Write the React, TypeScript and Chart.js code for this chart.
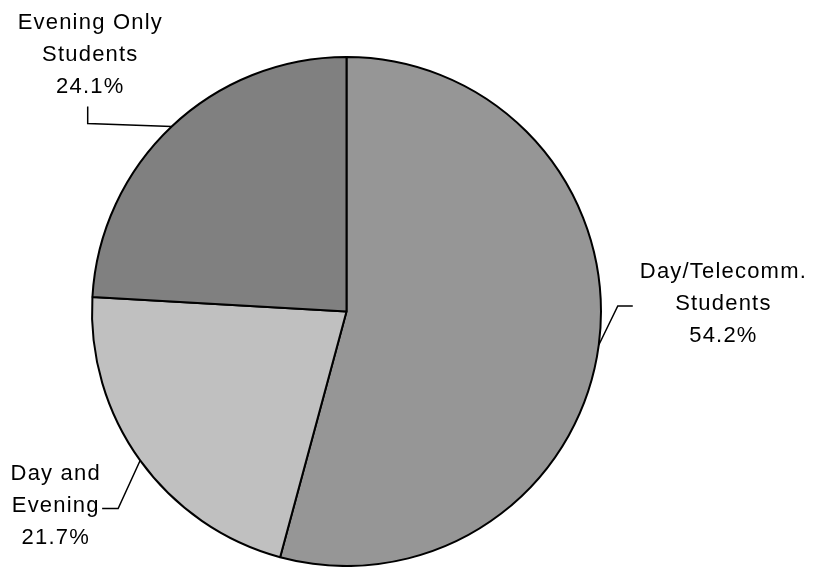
import React, { useEffect, useRef } from "react";
import { Chart, registerables } from "chart.js";

Chart.register(...registerables);

const categories = ["Day/Telecomm. Students", "Day and Evening", "Evening Only Students"];
const labelLines = [
  ["Day/Telecomm.", "Students", "54.2%"],
  ["Day and", "Evening", "21.7%"],
  ["Evening Only", "Students", "24.1%"],
];
const values = [54.2, 21.7, 24.1];
const colors = ["#969696", "#c0c0c0", "#808080"];

// label layout relative to slice anchor: elbow, end, text centre, first baseline
const labelLayout = [
  { elbow: [19, -39], end: [34, -39], text: [124, -67] },
  { elbow: [-22, 48], end: [-38, 48], text: [-85, 20] },
  { elbow: [-84, -3], end: [-84, -20], text: [-82, -98] },
];

const leaderPlugin = {
  id: "leaders",
  afterDraw(chart: any) {
    const ctx = chart.ctx;
    const meta = chart.getDatasetMeta(0);
    ctx.save();
    meta.data.forEach((arc: any, i: number) => {
      const mid = (arc.startAngle + arc.endAngle) / 2;
      const ax = arc.x + arc.outerRadius * Math.cos(mid);
      const ay = arc.y + arc.outerRadius * Math.sin(mid);
      const L = labelLayout[i];
      ctx.strokeStyle = "#000";
      ctx.lineWidth = 1.5;
      ctx.beginPath();
      ctx.moveTo(ax, ay);
      ctx.lineTo(ax + L.elbow[0], ay + L.elbow[1]);
      ctx.lineTo(ax + L.end[0], ay + L.end[1]);
      ctx.stroke();
      ctx.fillStyle = "#000";
      ctx.font = "22px 'Liberation Sans', Arial, sans-serif";
      (ctx as any).letterSpacing = "1.2px";
      ctx.textAlign = "center";
      ctx.textBaseline = "alphabetic";
      labelLines[i].forEach((t, k) => {
        ctx.fillText(t, ax + L.text[0] + 0.6, ay + L.text[1] + k * 32);
      });
    });
    ctx.restore();
  },
};

export default function App() {
  const ref = useRef<HTMLCanvasElement>(null);
  useEffect(() => {
    document.body.style.margin = "0";
    const chart = new Chart(ref.current as HTMLCanvasElement, {
      type: "pie",
      data: {
        labels: categories,
        datasets: [
          {
            data: values,
            backgroundColor: colors,
            borderColor: "#000",
            borderWidth: 2,
          },
        ],
      },
      options: {
        animation: false,
        responsive: false,
        layout: { padding: { left: 91, right: 211, top: 56, bottom: 0 } },
        plugins: { legend: { display: false }, tooltip: { enabled: false } },
      },
      plugins: [leaderPlugin],
    });
    return () => chart.destroy();
  }, []);
  return (
    <div style={{ width: 813, height: 567, background: "#fff" }}>
      <canvas ref={ref} width={813} height={567} />
    </div>
  );
}
